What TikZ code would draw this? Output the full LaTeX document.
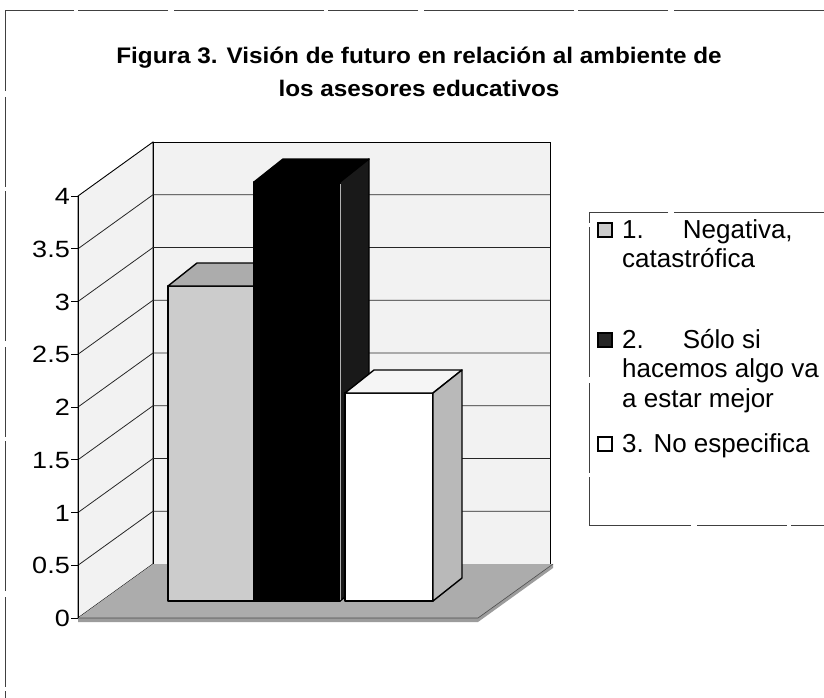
\documentclass[tikz,border=0pt]{standalone}
\usepackage{fontspec}
\setmainfont{Liberation Sans}
\newfontfamily\titlefont{Liberation Sans}[FakeStretch=1.08]
\newfontfamily\axisfont{Liberation Sans}[FakeStretch=1.15]
\begin{document}
\begin{tikzpicture}[x=1pt,y=-1pt,
  frameline/.style={black!75, line width=0.8pt, dash pattern=on 150pt off 6pt on 90pt off 4pt},
  wall/.style={fill=gray!10, draw=black, line width=0.9pt},
  gridln/.style={black!85, line width=0.8pt},
  barface/.style={draw=black, line width=1.4pt, line join=round},
  ticklab/.style={anchor=base east, inner sep=0pt, font=\axisfont\fontsize{23.5}{23.5}\selectfont},
  legtext/.style={anchor=base west, align=left, inner sep=0pt, font=\fontsize{26}{29.5}\selectfont},
  legbox/.style={draw=black, line width=1.2pt, minimum size=14pt, inner sep=0pt},
  titletext/.style={anchor=base, inner sep=0pt, font=\titlefont\bfseries\fontsize{22.5}{22.5}\selectfont}
]
\useasboundingbox (0,0) rectangle (824,698);
\fill[white] (0,0) rectangle (824,698);

% outer frame
\coordinate (ftl) at (5,10);
\coordinate (ftr) at (824,10);
\coordinate (fbl) at (5,698);
\draw[frameline] (ftr) -- (ftl) -- (fbl);

% title
\node[titletext] (t1) at (419,64) {Figura 3. Visión de futuro en relación al ambiente de};
\node[titletext] (t2) at (419,97) {los asesores educativos};

% walls
\coordinate (lwfb) at (78,618);
\coordinate (lwft) at (78,196);
\coordinate (bwtl) at (153,142);
\coordinate (bwbl) at (153,564);
\coordinate (bwtr) at (550,142);
\coordinate (bwbr) at (550,564);
\filldraw[wall] (lwfb) -- (lwft) -- (bwtl) -- (bwbl) -- cycle;
\filldraw[wall] (bwtl) -- (bwtr) -- (bwbr) -- (bwbl) -- cycle;
\foreach \v in {0.5,1,...,3.5} {
  \draw[gridln] (78,618-105.5*\v) -- (153,564-105.5*\v) -- (550,564-105.5*\v);
}

% floor
\coordinate (flfl) at (78,618);
\coordinate (flfr) at (478,618);
\coordinate (flbr) at (553,564);
\coordinate (flbl) at (153,564);
\fill[gray!65] (flfl) -- (flfr) -- (flbr) -- (flbl) -- cycle;
\fill[gray!78] (78,618) -- (478,618) -- (553,564) -- (553,568) -- (478,622) -- (78,622) -- cycle;
\draw[black!70, line width=0.6pt] (flfl) -- (flfr) -- (flbr);

% axis ticks and labels
\draw[black, line width=1pt] (lwfb) -- (lwft);
\foreach \v/\lab in {0/0,0.5/0.5,1/1,1.5/1.5,2/2,2.5/2.5,3/3,3.5/3.5,4/4} {
  \draw[black, line width=0.8pt] (71,618-105.5*\v) -- (78,618-105.5*\v);
  \node[ticklab] (y\lab) at (70,626.5-105.5*\v) {\lab};
}

% bar 1 (value 3)
\filldraw[barface, fill=gray!40] (168,286) rectangle (254,601);
\filldraw[barface, fill=gray!65] (168,286) -- (254,286) -- (283,263) -- (197,263) -- cycle;

% bar 2 (value 4)
\filldraw[barface, fill=black] (254,182) rectangle (340,601);
\filldraw[barface, fill=black] (254,182) -- (340,182) -- (369,159) -- (283,159) -- cycle;
\filldraw[barface, fill=black!90] (340,182) -- (369,159) -- (369,578) -- (340,601) -- cycle;
\draw[gray!60, line width=1pt] (340,184) -- (340,600);

% bar 3 (value 2)
\filldraw[barface, fill=white] (345,393) rectangle (433,601);
\filldraw[barface, fill=gray!8] (345,393) -- (433,393) -- (462,370) -- (374,370) -- cycle;
\filldraw[barface, fill=gray!55] (433,393) -- (462,370) -- (462,578) -- (433,601) -- cycle;

% legend frame
\coordinate (lgtr) at (824,212);
\coordinate (lgtl) at (589,212);
\coordinate (lgbl) at (589,525);
\coordinate (lgbr) at (824,525);
\draw[frameline] (lgtr) -- (lgtl) -- (lgbl) -- (lgbr);

% legend entries (anchor base = baseline of the last line)
\node[legbox, fill=gray!40] (k1) at (605,230) {};
\node[legtext] (l1) at (622,267.5) {1.\hspace{39pt}Negativa,\\catastrófica};
\node[legbox, fill=black!85] (k2) at (605,340) {};
\node[legtext] (l2) at (622,407) {2.\hspace{39pt}Sólo si\\hacemos algo va\\a estar mejor};
\node[legbox, fill=white] (k3) at (605,444) {};
\node[legtext] (l3) at (622,452) {3. No especifica};
\end{tikzpicture}
\end{document}
